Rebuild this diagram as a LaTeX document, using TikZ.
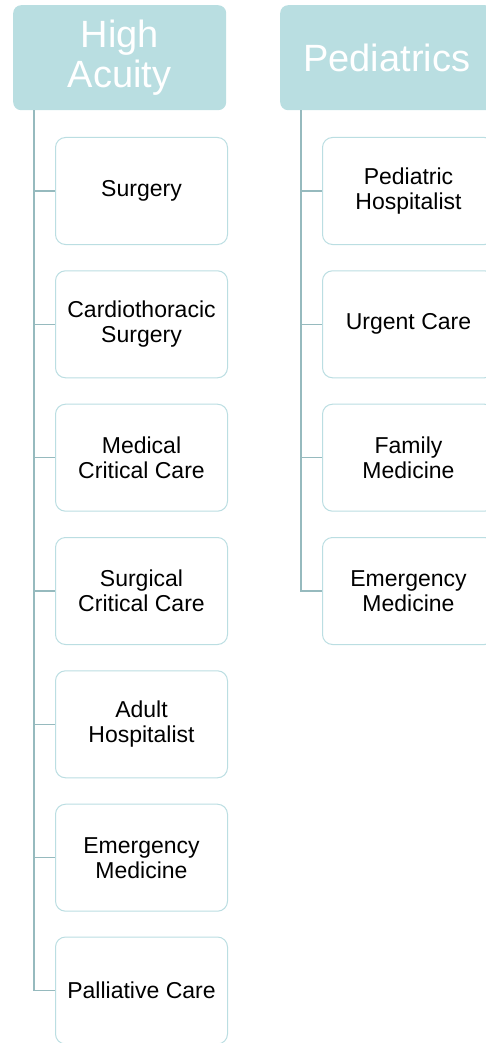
\documentclass[tikz,border=0pt]{standalone}
\usepackage{fontspec}
\setmainfont{Liberation Sans}
\definecolor{headfill}{RGB}{185,222,225}
\definecolor{boxline}{RGB}{187,222,226}
\definecolor{connline}{RGB}{150,186,190}
\begin{document}
\begin{tikzpicture}[x=1pt,y=-1pt,
  head/.style={rectangle,rounded corners=8pt,fill=headfill,draw=none,anchor=north west,
    minimum width=213pt,minimum height=105pt,inner sep=0pt,align=center,text=white,
    font=\fontsize{38}{39.5}\selectfont},
  child/.style={rectangle,rounded corners=10pt,fill=white,draw=boxline,line width=1pt,anchor=north west,
    minimum width=172pt,minimum height=107pt,inner sep=0pt,align=center,text=black,
    font=\fontsize{23}{25}\selectfont},
  conn/.style={draw=connline,line width=1.4pt}]
\useasboundingbox (0,0) rectangle (486,1043);
\clip (0,0) rectangle (486,1043);
% High Acuity column
\node[head] (ha) at (13,5) {High\\Acuity};
\node[child] (a1) at (55,137) {Surgery};
\node[child] (a2) at (55,270.3) {Cardiothoracic\\Surgery};
\node[child] (a3) at (55,403.7) {Medical\\Critical Care};
\node[child] (a4) at (55,537) {Surgical\\Critical Care};
\node[child] (a5) at (55,670.3) {Adult\\Hospitalist};
\node[child] (a6) at (55,803.7) {Emergency\\Medicine};
\node[child] (a7) at (55,936.5) {Palliative Care};
\coordinate (atop) at ([xshift=21pt]ha.south west);
\draw[conn] (atop) |- (a7.west);
\foreach \n in {a1,a2,a3,a4,a5,a6}{\draw[conn] (atop |- \n.west) -- (\n.west);}
% Pediatrics column
\node[head] (pe) at (280,5) {Pediatrics};
\node[child] (p1) at (322,137) {Pediatric\\Hospitalist};
\node[child] (p2) at (322,270.3) {Urgent Care};
\node[child] (p3) at (322,403.7) {Family\\Medicine};
\node[child] (p4) at (322,537) {Emergency\\Medicine};
\coordinate (ptop) at ([xshift=21pt]pe.south west);
\draw[conn] (ptop) |- (p4.west);
\foreach \n in {p1,p2,p3}{\draw[conn] (ptop |- \n.west) -- (\n.west);}
\end{tikzpicture}
\end{document}
